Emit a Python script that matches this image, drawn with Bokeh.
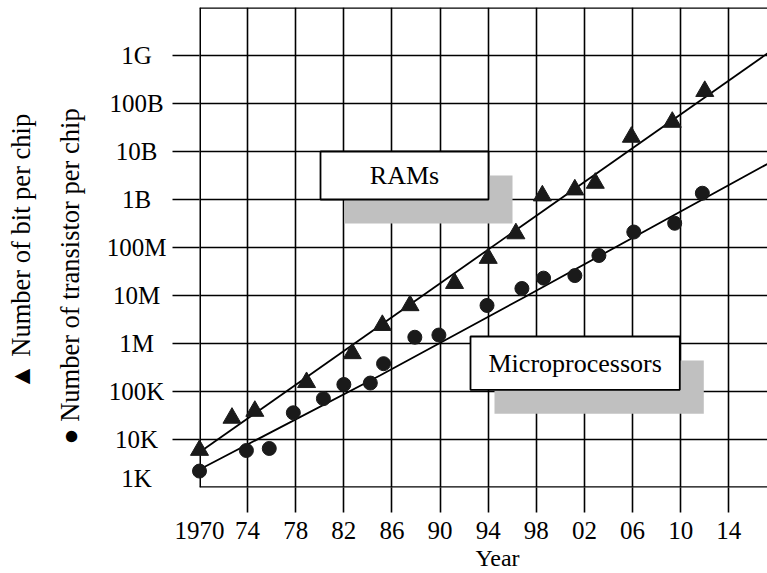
import math
from bokeh.plotting import figure
from bokeh.models import Range1d, FixedTicker, Span
from bokeh.core.properties import value
from bokeh.embed import file_html
from bokeh.resources import INLINE

# ---------------- data ----------------
ram_years = [1970.0, 1972.7, 1974.6, 1978.9, 1982.7, 1985.2, 1987.5, 1991.2,
             1994.0, 1996.3, 1998.5, 2001.2, 2002.9, 2005.9, 2009.3, 2012.0]
ram_bits = [6.0e3, 2.8e4, 3.9e4, 1.55e5, 6.2e5, 2.4e6, 6.2e6, 1.8e7,
            6.0e7, 1.95e8, 1.2e9, 1.6e9, 2.2e9, 2.0e10, 4.1e10, 1.8e11]

mpu_years = [1970.0, 1973.9, 1975.8, 1977.8, 1980.3, 1982.0, 1984.2, 1985.3, 1987.9,
             1989.9, 1993.9, 1996.8, 1998.6, 2001.2, 2003.2, 2006.1, 2009.5, 2011.8]
mpu_transistors = [2.2e3, 5.9e3, 6.5e3, 3.6e4, 7.1e4, 1.4e5, 1.5e5, 3.8e5, 1.35e6,
                   1.5e6, 6.2e6, 1.4e7, 2.3e7, 2.6e7, 6.8e7, 2.1e8, 3.2e8, 1.35e9]

ram_trend_years = [1970.0, 2017.2]
ram_trend_bits = [5.4e3, 1.1e12]
mpu_trend_years = [1970.0, 1985.0, 1997.0, 2017.2]
mpu_trend_transistors = [2.37e3, 2.15e5, 9.2e6, 5.5e9]

x_tick_years = [1970, 1974, 1978, 1982, 1986, 1990, 1994, 1998, 2002, 2006, 2010, 2014]
x_tick_labels = ["1970", "74", "78", "82", "86", "90", "94", "98", "02", "06", "10", "14"]
y_tick_values = [1e3, 1e4, 1e5, 1e6, 1e7, 1e8, 1e9, 1e10, 1e11, 1e12]
y_tick_labels = ["1K", "10K", "100K", "1M", "10M", "100M", "1B", "10B", "100B", "1G"]

# ---------------- layout ----------------
W, H = 767, 573
BORDER_L, BORDER_T, BORDER_B = 199, 7, 86
FRAME_W = W - BORDER_L
FRAME_H = H - BORDER_T - BORDER_B
PX_PER_YEAR = 12.03
X_START = 1970.0
X_END = X_START + FRAME_W / PX_PER_YEAR
Y_START, Y_END = 1e3, 1e13
PX_PER_DEC = FRAME_H / 10.0
PAGE_LEFT = BORDER_L
PAGE_BOTTOM = BORDER_T + FRAME_H


def yr(xp):
    return X_START + (xp - PAGE_LEFT) / PX_PER_YEAR


def val(yp):
    return 10 ** (3 + (PAGE_BOTTOM - yp) / PX_PER_DEC)


SERIF = value("Liberation Serif")
INK = "black"

p = figure(width=W, height=H, x_range=Range1d(X_START, X_END),
           y_range=Range1d(Y_START, Y_END), y_axis_type="log",
           output_backend="svg", toolbar_location=None,
           min_border_left=BORDER_L, min_border_right=0,
           min_border_top=BORDER_T, min_border_bottom=BORDER_B)
p.outline_line_color = None
p.background_fill_color = "white"
p.border_fill_color = "white"

# axes: tick marks only (labels drawn as text below)
for ax, ticks, out in ((p.xaxis, x_tick_years[1:], 25), (p.yaxis, y_tick_values[1:], 27)):
    ax.ticker = FixedTicker(ticks=ticks)
    ax.major_tick_out = out
    ax.major_tick_in = 0
    ax.major_tick_line_color = INK
    ax.major_tick_line_width = 1.6
    ax.minor_tick_line_color = None
    ax.axis_line_color = None
    ax.major_label_text_color = None

p.xgrid.ticker = FixedTicker(ticks=x_tick_years[1:])
p.ygrid.ticker = FixedTicker(ticks=y_tick_values[1:])
for g in (p.xgrid, p.ygrid):
    g.grid_line_color = INK
    g.grid_line_width = 1.6
    g.grid_line_alpha = 1.0

# frame borders (left, bottom, top)
p.add_layout(Span(location=X_START, dimension="height", line_color=INK, line_width=3))
p.add_layout(Span(location=Y_START, dimension="width", line_color=INK, line_width=2.6))
p.add_layout(Span(location=Y_END, dimension="width", line_color=INK, line_width=2.4))

# callout boxes with grey shadows
SHADOW_DX = 24 / PX_PER_YEAR
SHADOW_DY = 10 ** (24 / PX_PER_DEC)
boxes = [
    ("RAMs", yr(320), yr(488), 1e9, 1e10),
    ("Microprocessors", yr(470), yr(679.3), val(389.3), val(336)),
]
for label, l, r, b, t in boxes:
    p.quad(left=[l + SHADOW_DX], right=[r + SHADOW_DX], bottom=[b / SHADOW_DY], top=[t / SHADOW_DY],
           fill_color="#c0c0c0", line_color=None)
    p.quad(left=[l], right=[r], bottom=[b], top=[t],
           fill_color="white", line_color=INK, line_width=1.8)
    p.text(x=[(l + r) / 2], y=[math.sqrt(b * t)], text=[label], text_font=SERIF,
           text_font_size="26px", text_align="center", text_baseline="middle", text_color=INK)

# trend lines
p.line(ram_trend_years, ram_trend_bits, line_color=INK, line_width=1.8)
p.line(mpu_trend_years, mpu_trend_transistors, line_color=INK, line_width=1.8)

# data points
p.scatter(ram_years, ram_bits, marker="triangle", size=18,
          fill_color="#1a1a1a", line_color="#1a1a1a", level="overlay")
p.scatter(mpu_years, mpu_transistors, marker="circle", size=14,
          fill_color="#1a1a1a", line_color="#1a1a1a", level="overlay")

# tick labels
p.text(x=x_tick_years, y=[val(529.7)] * len(x_tick_years), text=x_tick_labels,
       text_font=SERIF, text_font_size="25px", text_align="center",
       text_baseline="middle", text_color=INK, level="overlay")
y_label_pos = [val(478)] + y_tick_values[1:]
p.text(x=[yr(136)] * len(y_tick_values), y=y_label_pos, text=y_tick_labels,
       text_font=SERIF, text_font_size="25px", text_align="center",
       text_baseline="middle", text_color=INK, level="overlay")

# axis titles
p.text(x=[yr(497)], y=[val(557.5)], text=["Year"], text_font=SERIF,
       text_font_size="24px", text_align="center", text_baseline="middle",
       text_color=INK, level="overlay")
p.text(x=[yr(20), yr(69)], y=[val(389), val(444)],
       text=["\u25B2 Number of bit per chip", "\u25CF Number of transistor per chip"],
       angle=math.pi / 2, text_font=SERIF, text_font_size="26.5px",
       text_align="left", text_baseline="alphabetic", text_color=INK, level="overlay")

open("out.html", "w").write(file_html(p, INLINE))
